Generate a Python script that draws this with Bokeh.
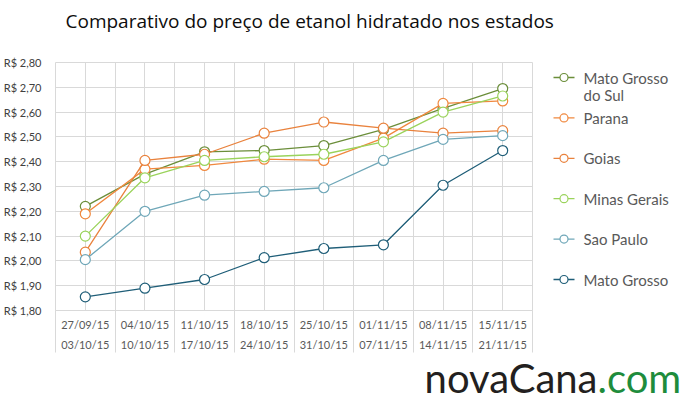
from bokeh.plotting import figure
from bokeh.layouts import column, row
from bokeh.models import Range1d, FixedTicker
from bokeh.core.properties import value
from bokeh.embed import file_html
from bokeh.resources import INLINE

title_text = "Comparativo do preço de etanol hidratado nos estados"

week_start = ["27/09/15", "04/10/15", "11/10/15", "18/10/15",
              "25/10/15", "01/11/15", "08/11/15", "15/11/15"]
week_end = ["03/10/15", "10/10/15", "17/10/15", "24/10/15",
            "31/10/15", "07/11/15", "14/11/15", "21/11/15"]

y_ticks = [1.8, 1.9, 2.0, 2.1, 2.2, 2.3, 2.4, 2.5, 2.6, 2.7, 2.8]
y_tick_labels = ["R$ 1,80", "R$ 1,90", "R$ 2,00", "R$ 2,10", "R$ 2,20", "R$ 2,30",
                 "R$ 2,40", "R$ 2,50", "R$ 2,60", "R$ 2,70", "R$ 2,80"]

series_names = ["Mato Grosso\ndo Sul", "Parana", "Goias", "Minas Gerais", "Sao Paulo", "Mato Grosso"]
mato_grosso_do_sul = [2.22, 2.35, 2.44, 2.445, 2.465, 2.53, 2.615, 2.695]
parana = [2.19, 2.37, 2.385, 2.41, 2.405, 2.495, 2.635, 2.645]
goias = [2.035, 2.405, 2.43, 2.515, 2.56, 2.535, 2.515, 2.525]
minas_gerais = [2.10, 2.335, 2.405, 2.42, 2.43, 2.48, 2.60, 2.665]
sao_paulo = [2.005, 2.20, 2.265, 2.28, 2.295, 2.405, 2.49, 2.505]
mato_grosso = [1.855, 1.89, 1.925, 2.013, 2.05, 2.065, 2.305, 2.445]

series_values = [mato_grosso_do_sul, parana, goias, minas_gerais, sao_paulo, mato_grosso]
series_colors = ["#6B8E3A", "#F0883E", "#E9823D", "#9AD35B", "#6FA7B8", "#1F5E78"]

logo_main = "novaCana"
logo_suffix = ".com"

FONT = "Lato"
GRID = "#d9d9d9"
W, H = 684, 406
TITLE_H, LEG_W = 40, 132
TOP_B, BOT_B, FRAME_H = 22, 46, 248
MAIN_H = TOP_B + FRAME_H + BOT_B
LOGO_H = H - TITLE_H - MAIN_H
MAIN_W = W - LEG_W
FRAME_TOP = TITLE_H + TOP_B
FRAME_BOT = FRAME_TOP + FRAME_H


def strip(width, height, xr, yr, top=0, bottom=0):
    f = figure(width=width, height=height, output_backend="svg", toolbar_location=None,
               x_range=xr, y_range=yr,
               x_axis_location=None, y_axis_location=None,
               min_border=0, min_border_left=0, min_border_right=0,
               min_border_top=top, min_border_bottom=bottom)
    f.outline_line_color = None
    f.xgrid.visible = False
    f.ygrid.visible = False
    return f


# ---- title strip
title_fig = strip(W, TITLE_H, Range1d(0, W), Range1d(TITLE_H, 0))
title_fig.text(x=[65], y=[20], text=[title_text], text_align="left", text_baseline="middle",
               text_font=value("Open Sans"), text_font_size="19px", text_color="#0d0d0d")

# ---- main chart
n = len(week_start)
xs = list(range(n))

p = figure(width=MAIN_W, height=MAIN_H, output_backend="svg", toolbar_location=None,
           x_range=Range1d(-0.5, n - 0.5), y_range=Range1d(y_ticks[0], y_ticks[-1]),
           min_border_left=50, min_border_right=20, min_border_top=TOP_B, min_border_bottom=BOT_B)
p.outline_line_color = GRID

p.xgrid.ticker = FixedTicker(ticks=[i * 0.5 - 0.5 for i in range(2 * n + 1)])
p.ygrid.ticker = FixedTicker(ticks=y_ticks)
p.xgrid.grid_line_color = GRID
p.ygrid.grid_line_color = GRID

p.yaxis.ticker = FixedTicker(ticks=y_ticks)
p.yaxis.major_label_overrides = {t: l for t, l in zip(y_ticks, y_tick_labels)}
p.yaxis.axis_line_color = None
p.yaxis.major_tick_line_color = None
p.yaxis.minor_tick_line_color = None
p.yaxis.major_label_text_font = FONT
p.yaxis.major_label_text_font_size = "11px"
p.yaxis.major_label_text_color = "#404040"
p.yaxis.major_label_standoff = 8

p.xaxis.ticker = FixedTicker(ticks=xs, minor_ticks=[i - 0.5 for i in range(n + 1)])
p.xaxis.major_label_overrides = {i: f"{a}\n{b}" for i, (a, b) in enumerate(zip(week_start, week_end))}
p.xaxis.axis_line_color = GRID
p.xaxis.major_tick_line_color = None
p.xaxis.minor_tick_line_color = GRID
p.xaxis.minor_tick_in = 0
p.xaxis.minor_tick_out = 42
p.xaxis.major_label_text_font = FONT
p.xaxis.major_label_text_font_size = "11px"
p.xaxis.major_label_text_color = "#595959"
p.xaxis.major_label_standoff = -35
p.xaxis.major_label_text_line_height = 1.6

for vals, col in zip(series_values, series_colors):
    p.line(xs, vals, line_color=col, line_width=1.3)
    p.scatter(xs, vals, marker="circle", size=10, fill_color="white",
              line_color=col, line_width=1.2)

# ---- legend strip (its frame is aligned with the chart frame; coordinates = page pixels)
leg = strip(LEG_W, MAIN_H, Range1d(MAIN_W, W), Range1d(FRAME_BOT, FRAME_TOP),
            top=TOP_B, bottom=BOT_B)
row0, pitch = 77, 40.4
for i, (name, col) in enumerate(zip(series_names, series_colors)):
    yy = row0 + pitch * i
    leg.line([MAIN_W + 1, MAIN_W + 22], [yy, yy], line_color=col, line_width=1.3)
    leg.scatter([MAIN_W + 11.5], [yy], marker="circle", size=8, fill_color="white",
                line_color=col, line_width=1.2)
    for k, part in enumerate(name.split("\n")):
        leg.text(x=[MAIN_W + 31], y=[yy + 17 * k], text=[part], text_align="left",
                 text_baseline="middle", text_font=value(FONT), text_font_size="15px",
                 text_color="#595959")

# ---- logo strip
logo = strip(W, LOGO_H, Range1d(0, W), Range1d(LOGO_H, 0))
logo.text(x=[597], y=[21], text=[logo_main], text_align="right", text_baseline="middle",
          text_font=value(FONT), text_font_size="40px", text_color="#231f20")
logo.text(x=[597], y=[21], text=[logo_suffix], text_align="left", text_baseline="middle",
          text_font=value(FONT), text_font_size="40px", text_color="#1e8c3c")

layout = column(title_fig, row(p, leg, spacing=0), logo, spacing=0)
open("out.html", "w").write(file_html(layout, INLINE))
